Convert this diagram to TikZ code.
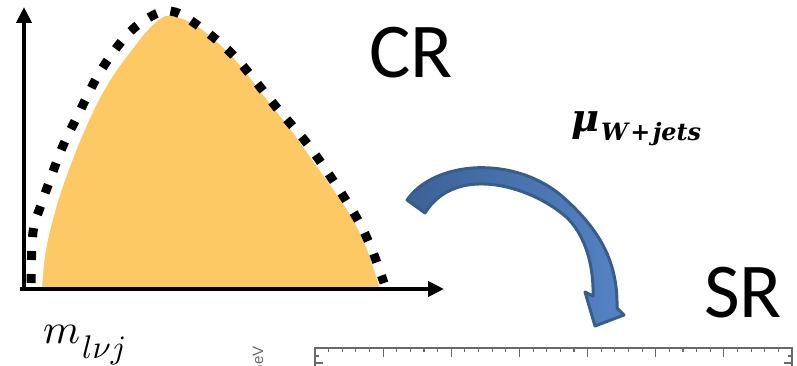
\documentclass[tikz,border=0pt]{standalone}
\usepackage{amsmath}
\usepackage{fontspec}
\newfontfamily\calib{Carlito}
\newfontfamily\lsans{Liberation Sans}
\newfontfamily\dserif{DejaVu Serif}
\usetikzlibrary{arrows.meta}
\definecolor{histo}{RGB}{253,201,100}
\definecolor{arrowedge}{RGB}{56,93,138}
\definecolor{arrowdark}{RGB}{60,98,150}
\definecolor{arrowlight}{RGB}{84,131,196}
\definecolor{rulergray}{RGB}{105,105,105}
\newcommand{\mlabtext}{\resizebox{37pt}{!}{$m$}\kern2pt\raisebox{-15pt}{\resizebox{44pt}{!}{$l\nu j$}}}
\newcommand{\mulabtext}{\dserif\bfseries\itshape\resizebox{28pt}{!}{μ}\kern2pt\raisebox{-9pt}{\resizebox{100pt}{!}{W\kern1pt+\kern1pt jets}}}
\tikzset{
  axisline/.style={line width=4pt,-{Triangle[length=16pt,width=15pt]}},
  dotcurve/.style={line width=9pt,dash pattern=on 9pt off 14pt},
  bigtxt/.style={inner sep=0pt,anchor=base west,font=\calib\fontsize{77.6}{80}\selectfont},
  rulerline/.style={rulergray,line width=1.1pt},
  bluearrow/.style={draw=arrowedge,line width=3pt,line join=round,left color=arrowdark,right color=arrowlight}
}
\begin{document}
\begin{tikzpicture}[x=1pt,y=-1pt]
\useasboundingbox (0,0) rectangle (797,366);
\clip (0,0) rectangle (797,366);
\fill[histo] plot[smooth,tension=0.6] coordinates {(42,289) (46,250) (57,205) (70,167) (84,132) (99,100) (115,73) (132,50) (149,29) (166,16) (185,20) (205,32) (235,60) (267,100) (293,133) (317,167) (337,195) (353,220) (367,250) (380,289)} -- cycle;
\draw[dotcurve] plot[smooth,tension=0.6] coordinates {(31,283) (33,232) (41,205) (50,180) (62,148) (77,117) (100,72) (127,35) (150,17) (170,11) (193,22) (233,55) (277,108) (312,150) (352,210) (370,245) (384,283)};
\coordinate (ybot) at (24,291);
\coordinate (ytip) at (24,7);
\coordinate (xleft) at (20,289);
\coordinate (xtip) at (444,289);
\draw[axisline] (ybot) -- (ytip);
\draw[axisline] (xleft) -- (xtip);
\node[bigtxt] (cr) at (369,78) {CR};
\node[bigtxt] (sr) at (704,317) {SR};
\node[inner sep=0pt,anchor=base west] (mlab) at (43,343) {\mlabtext};
\node[inner sep=0pt,anchor=base west] (mulab) at (571,132) {\mulabtext};
\draw[bluearrow] (407,200) .. controls (435,160) and (515,155) .. (563,197)
  .. controls (600,230) and (618,262) .. (617,308)
  -- (624,315) -- (595,326) -- (585,292) -- (593,296)
  .. controls (594,262) and (583,228) .. (560,212)
  .. controls (525,185) and (455,165) .. (425,213) -- cycle;
\coordinate (rl) at (315,348);
\coordinate (rr) at (792,348);
\draw[rulerline] (315,370) -- (rl) -- (rr) -- (792,370);
\foreach \i in {1,...,34} {
  \pgfmathsetmacro\xpos{315+\i*13.6286}
  \pgfmathsetmacro\tlen{mod(\i,5)==0 ? 9 : 4}
  \draw[rulerline] (\xpos,348) -- (\xpos,348+\tlen);
}
\draw[rulerline] (315,356) -- (319,356) (315,363) -- (323,363);
\draw[rulerline] (792,356) -- (788,356) (792,363) -- (784,363);
\node[rotate=90,anchor=base east,inner sep=0pt,text=rulergray,font=\lsans\fontsize{15}{17}\selectfont] (gev) at (263,346) {GeV};
\end{tikzpicture}
\end{document}
